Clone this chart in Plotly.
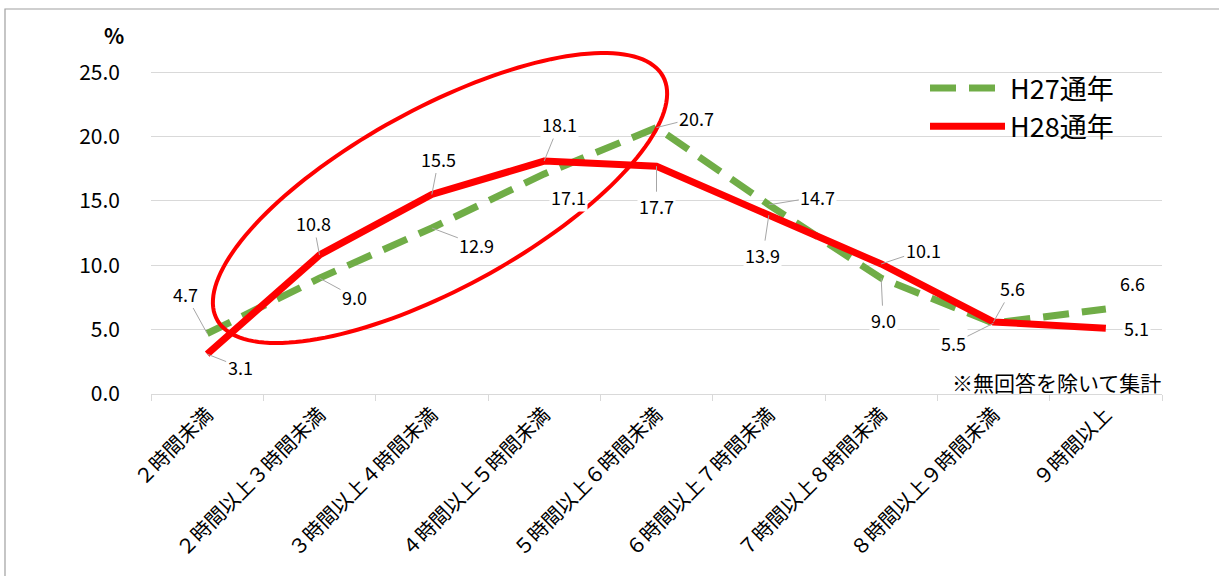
import numpy as np
import plotly.graph_objects as go

categories = ["２時間未満", "２時間以上３時間未満", "３時間以上４時間未満", "４時間以上５時間未満",
              "５時間以上６時間未満", "６時間以上７時間未満", "７時間以上８時間未満",
              "８時間以上９時間未満", "９時間以上"]
h27 = [4.7, 9.0, 12.9, 17.1, 20.7, 14.7, 9.0, 5.5, 6.6]
h28 = [3.1, 10.8, 15.5, 18.1, 17.7, 13.9, 10.1, 5.6, 5.1]
y_ticks = [0, 5, 10, 15, 20, 25]

# label offsets in pixels (dx right, dy down) and whether a leader line is drawn
h27_off = [(-22, -40), (35, 19), (45, 17), (24, 23), (40, -10), (49, -8), (2, 42), (-40, 20), (27, -26)]
h27_lead = [True, True, True, False, True, True, True, True, False]
h28_off = [(33, 13), (-6, -32), (7, -36), (15, -37), (0, 40), (-6, 40), (42, -14), (19, -34), (31, 0)]
h28_lead = [True, True, True, True, True, True, True, True, False]

W, H = 1219, 576
ML, MR, MT, MB = 151, 57, 46, 182
PW, PH = W - ML - MR, H - MT - MB
YMAX = 27.04
px_x = PW / 9.0
px_y = PH / YMAX

FONT = "Noto Sans CJK JP"
GREEN = "#70ad47"
RED = "#ff0000"

fig = go.Figure()
x_idx = list(range(len(categories)))
fig.add_trace(go.Scatter(x=x_idx, y=h27, mode="lines", name="H27通年",
                         line=dict(color=GREEN, width=7, dash="26px,13px")))
fig.add_trace(go.Scatter(x=x_idx, y=h28, mode="lines", name="H28通年",
                         line=dict(color=RED, width=7)))

annotations = []
for vals, offs, leads in [(h27, h27_off, h27_lead), (h28, h28_off, h28_lead)]:
    for i, (v, (dx, dy), lead) in enumerate(zip(vals, offs, leads)):
        base = dict(x=i, y=v, xref="x", yref="y", text=f"{v:.1f}",
                    font=dict(family=FONT, size=18, color="#000000"),
                    bgcolor="white", borderpad=1)
        if lead:
            base.update(showarrow=True, arrowhead=0, arrowwidth=1, arrowcolor="#a6a6a6",
                        ax=dx, ay=dy, axref="pixel", ayref="pixel")
        else:
            base.update(showarrow=False, xshift=dx, yshift=-dy,
                        xanchor="center", yanchor="middle")
        annotations.append(base)

annotations.append(dict(x=(114 - ML) / PW, y=(H - MB - 35) / PH, xref="paper", yref="paper",
                        xanchor="center", yanchor="middle",
                        text="<b>%</b>", showarrow=False,
                        font=dict(family=FONT, size=21, color="#000000")))
annotations.append(dict(x=(1163 - ML) / PW, y=(H - MB - 382) / PH, xref="paper", yref="paper",
                        xanchor="right", yanchor="middle", text="※無回答を除いて集計", showarrow=False,
                        font=dict(family=FONT, size=21, color="#000000")))

# ellipse highlight (pixel geometry converted to data units)
cx_px, cy_px = 440, 198
a_px, b_px, theta = 254, 90, np.deg2rad(28.6)
cx = (cx_px - ML) / px_x - 0.5
cy = (H - MB - cy_px) / px_y
t = np.linspace(0, 2 * np.pi, 160)
ex = cx + (a_px * np.cos(t) * np.cos(theta) - b_px * np.sin(t) * np.sin(theta)) / px_x
ey = cy + (a_px * np.cos(t) * np.sin(theta) + b_px * np.sin(t) * np.cos(theta)) / px_y
path = "M " + " L ".join(f"{xx:.4f},{yy:.4f}" for xx, yy in zip(ex, ey)) + " Z"

shapes = [
    dict(type="path", path=path, xref="x", yref="y", line=dict(color=RED, width=4),
         fillcolor="rgba(0,0,0,0)", layer="above"),
    dict(type="rect", xref="paper", yref="paper",
         x0=(5 - ML) / PW, x1=1.2, y0=-1.0, y1=(H - MB - 9) / PH,
         line=dict(color="#a0a0a0", width=1.2), fillcolor="rgba(0,0,0,0)", layer="below"),
]

fig.update_layout(
    width=W, height=H,
    margin=dict(l=ML, r=MR, t=MT, b=MB, pad=0),
    plot_bgcolor="white", paper_bgcolor="white",
    font=dict(family=FONT, color="#000000"),
    showlegend=True,
    legend=dict(x=(925 - ML) / PW, y=(H - MB - 64) / PH, xanchor="left", yanchor="top",
                font=dict(family=FONT, size=27, color="#000000"),
                bgcolor="rgba(255,255,255,0)", tracegroupgap=0, itemwidth=75),
    annotations=annotations,
    shapes=shapes,
)
fig.update_xaxes(
    range=[-0.5, 8.5], tickmode="array", tickvals=x_idx, ticktext=categories,
    tickangle=-45, ticks="", showgrid=False, zeroline=False,
    showline=True, linecolor="#d9d9d9", linewidth=1,
    tickfont=dict(family=FONT, size=20, color="#000000"),
    minor=dict(tickmode="array", tickvals=[i - 0.5 for i in range(10)], ticks="outside",
               ticklen=6, tickcolor="#d9d9d9", tickwidth=1, showgrid=False),
)
fig.update_yaxes(
    range=[0, YMAX], tickmode="array", tickvals=y_ticks, tickformat=".1f",
    showgrid=True, gridcolor="#d9d9d9", gridwidth=1, zeroline=False, showline=False,
    ticks="", ticklabelstandoff=30,
    tickfont=dict(family=FONT, size=21, color="#000000"),
)

fig.write_html("out.html")
